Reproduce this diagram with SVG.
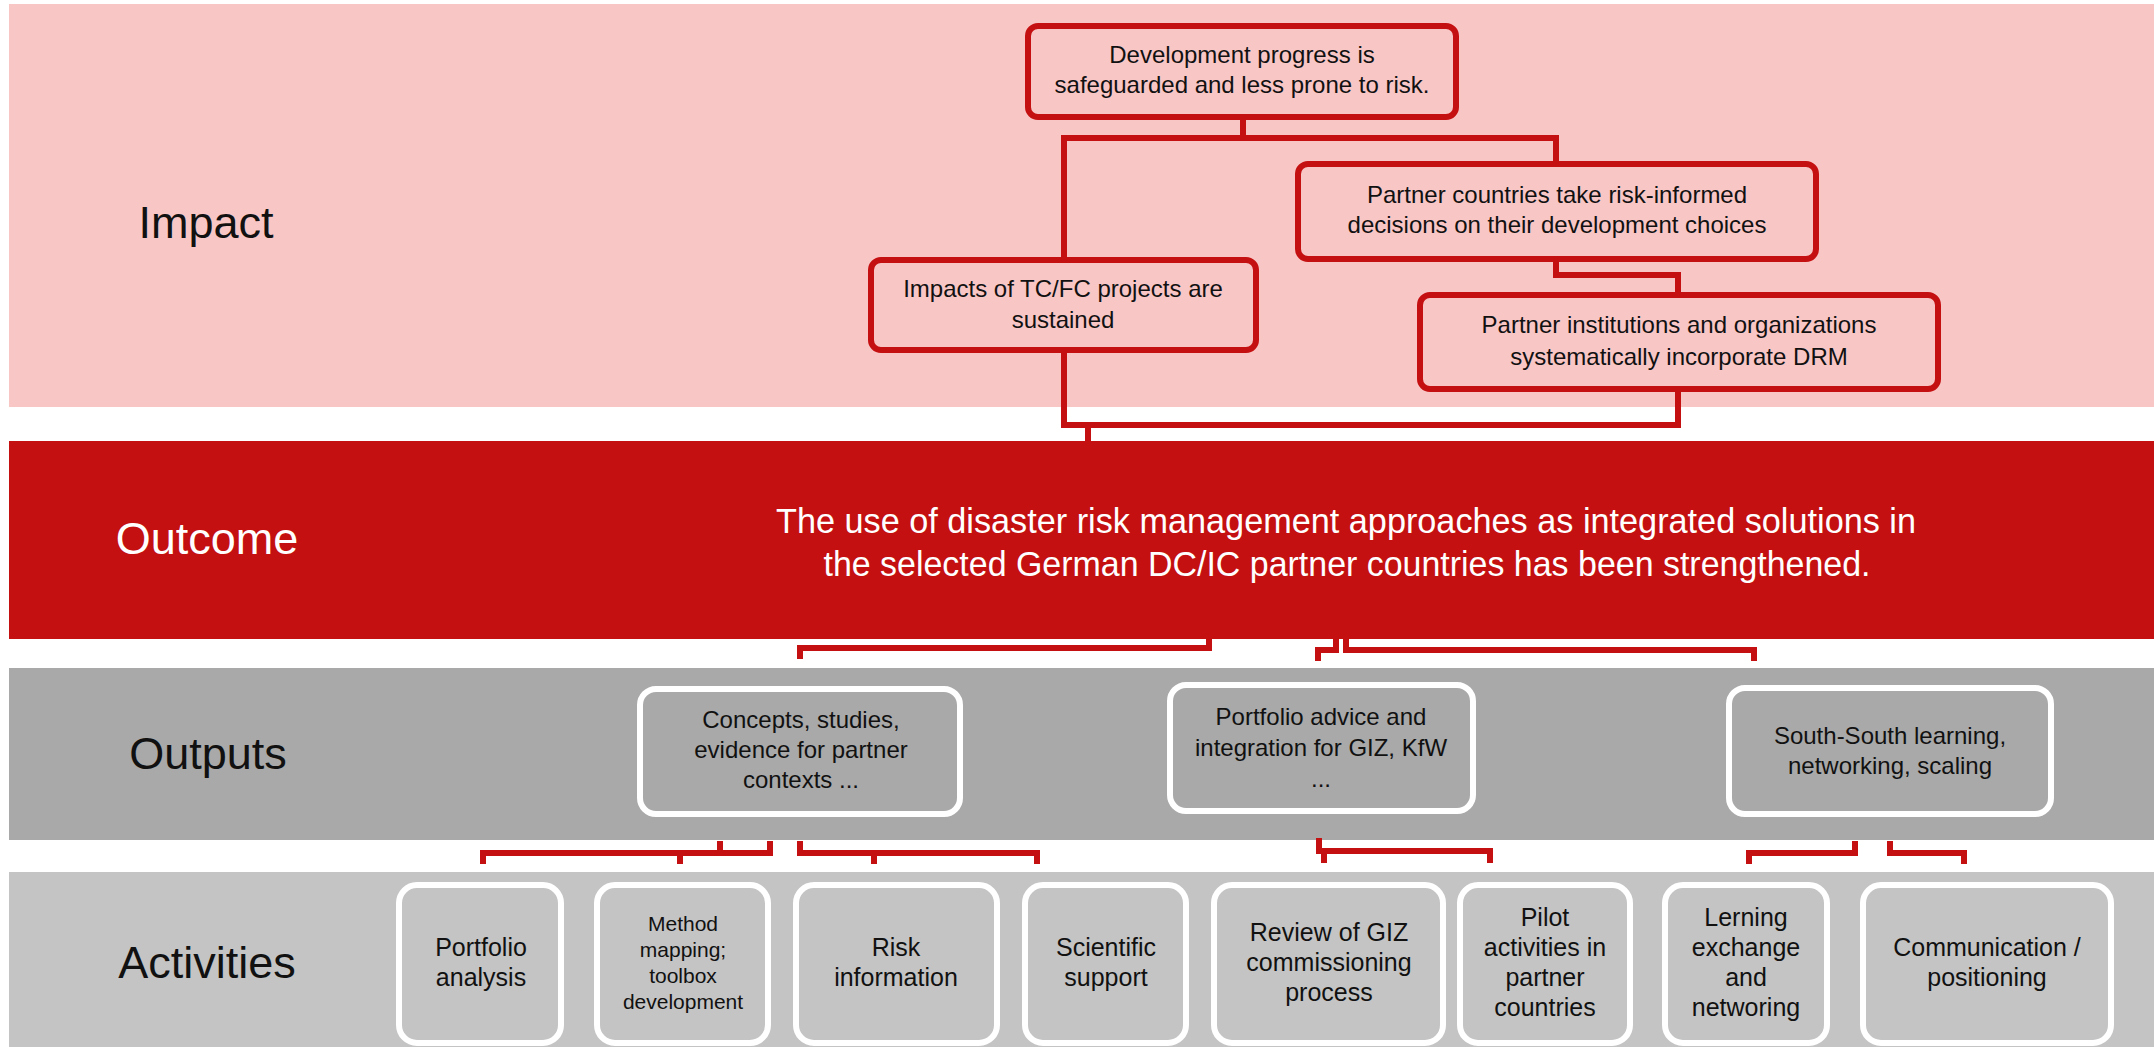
<svg xmlns="http://www.w3.org/2000/svg" width="2154" height="1047" viewBox="0 0 2154 1047">
<style>
text{font-family:"Liberation Sans",Arial,sans-serif;text-anchor:middle;fill:#111}
.lbl{font-size:45px}
.imp rect{fill:#F9C6C6;stroke:#C41010;stroke-width:6}
.imp text{font-size:24px}
.out rect{fill:#A9A9A9;stroke:#fff;stroke-width:6}
.out text{font-size:24px}
.act rect{fill:#C4C4C4;stroke:#fff;stroke-width:6}
.act text{font-size:25px}
.act text.sm{font-size:21px}
.con path{fill:none;stroke:#C41010;stroke-width:6;stroke-linejoin:miter}
</style>
<rect x="0" y="0" width="2154" height="1047" fill="#fff"/>
<g id="bands">
<rect x="9" y="4" width="2145" height="403" fill="#F9C6C6"/>
<rect x="9" y="441" width="2145" height="198" fill="#C41010"/>
<rect x="9" y="668" width="2145" height="172" fill="#A9A9A9"/>
<rect x="9" y="872" width="2145" height="175" fill="#C4C4C4"/>
<text class="lbl" x="206" y="238">Impact</text>
<text class="lbl" x="207" y="554" style="fill:#fff">Outcome</text>
<text class="lbl" x="208" y="769">Outputs</text>
<text class="lbl" x="207" y="978">Activities</text>
</g>
<g class="con" id="connectors">
<path d="M1243,117 V138 M1061,138 H1559 M1064,138 V260 M1556,138 V164"/>
<path d="M1556,259 V275 H1678 V295"/>
<path d="M1064,350 V425 H1678 V389 M1088,425 V441"/>
<path d="M1209,639 V648 H800 V659"/>
<path d="M1336,639 V650 H1318 V661"/>
<path d="M1346,639 V650 H1754 V661"/>
<path d="M483,864 V853 H770 V841 M720,841 V853 M680,853 V864"/>
<path d="M800,841 V853 H1037 V864 M874,853 V864"/>
<path d="M1319,838 V851 H1490 V863 M1324,851 V863"/>
<path d="M1855,841 V853 H1749 V864"/>
<path d="M1890,841 V853 H1964 V864"/>
</g>
<g id="impact-top" class="imp">
<rect x="1028" y="26" width="428" height="91" rx="10"/>
<text x="1242" y="63">Development progress is</text>
<text x="1242" y="93">safeguarded and less prone to risk.</text>
</g>
<g id="impact-partner-countries" class="imp">
<rect x="1298" y="164" width="518" height="95" rx="10"/>
<text x="1557" y="203">Partner countries take risk-informed</text>
<text x="1557" y="233">decisions on their development choices</text>
</g>
<g id="impact-tcfc" class="imp">
<rect x="871" y="260" width="385" height="90" rx="10"/>
<text x="1063" y="297">Impacts of TC/FC projects are</text>
<text x="1063" y="328">sustained</text>
</g>
<g id="impact-institutions" class="imp">
<rect x="1420" y="295" width="518" height="94" rx="10"/>
<text x="1679" y="333">Partner institutions and organizations</text>
<text x="1679" y="365">systematically incorporate DRM</text>
</g>
<g id="outcome">
<text x="1346" y="533" style="fill:#fff;font-size:35px" textLength="1140" lengthAdjust="spacingAndGlyphs">The use of disaster risk management approaches as integrated solutions in</text>
<text x="1347" y="576" style="fill:#fff;font-size:35px" textLength="1047" lengthAdjust="spacingAndGlyphs">the selected German DC/IC partner countries has been strengthened.</text>
</g>
<g id="output-concepts" class="out">
<rect x="640" y="689" width="320" height="125" rx="16"/>
<text x="801" y="728">Concepts, studies,</text>
<text x="801" y="758">evidence for partner</text>
<text x="801" y="788">contexts ...</text>
</g>
<g id="output-portfolio" class="out">
<rect x="1170" y="685" width="303" height="126" rx="16"/>
<text x="1321" y="725">Portfolio advice and</text>
<text x="1321" y="756">integration for GIZ, KfW</text>
<text x="1321" y="787">...</text>
</g>
<g id="output-southsouth" class="out">
<rect x="1729" y="688" width="322" height="126" rx="16"/>
<text x="1890" y="744">South-South learning,</text>
<text x="1890" y="774">networking, scaling</text>
</g>
<g id="act-portfolio" class="act">
<rect x="399" y="885" width="162" height="158" rx="18"/>
<text x="481" y="956">Portfolio</text>
<text x="481" y="986">analysis</text>
</g>
<g id="act-method" class="act">
<rect x="597" y="885" width="171" height="158" rx="18"/>
<text class="sm" x="683" y="931">Method</text>
<text class="sm" x="683" y="957">mapping;</text>
<text class="sm" x="683" y="983">toolbox</text>
<text class="sm" x="683" y="1009">development</text>
</g>
<g id="act-risk" class="act">
<rect x="796" y="885" width="201" height="158" rx="18"/>
<text x="896" y="956">Risk</text>
<text x="896" y="986">information</text>
</g>
<g id="act-scientific" class="act">
<rect x="1025" y="885" width="161" height="158" rx="18"/>
<text x="1106" y="956">Scientific</text>
<text x="1106" y="986">support</text>
</g>
<g id="act-review" class="act">
<rect x="1214" y="885" width="229" height="158" rx="18"/>
<text x="1329" y="941">Review of GIZ</text>
<text x="1329" y="971">commissioning</text>
<text x="1329" y="1001">process</text>
</g>
<g id="act-pilot" class="act">
<rect x="1460" y="885" width="170" height="158" rx="18"/>
<text x="1545" y="926">Pilot</text>
<text x="1545" y="956">activities in</text>
<text x="1545" y="986">partner</text>
<text x="1545" y="1016">countries</text>
</g>
<g id="act-lerning" class="act">
<rect x="1665" y="885" width="162" height="158" rx="18"/>
<text x="1746" y="926">Lerning</text>
<text x="1746" y="956">exchange</text>
<text x="1746" y="986">and</text>
<text x="1746" y="1016">networing</text>
</g>
<g id="act-communication" class="act">
<rect x="1863" y="885" width="248" height="158" rx="18"/>
<text x="1987" y="956">Communication /</text>
<text x="1987" y="986">positioning</text>
</g>
</svg>
